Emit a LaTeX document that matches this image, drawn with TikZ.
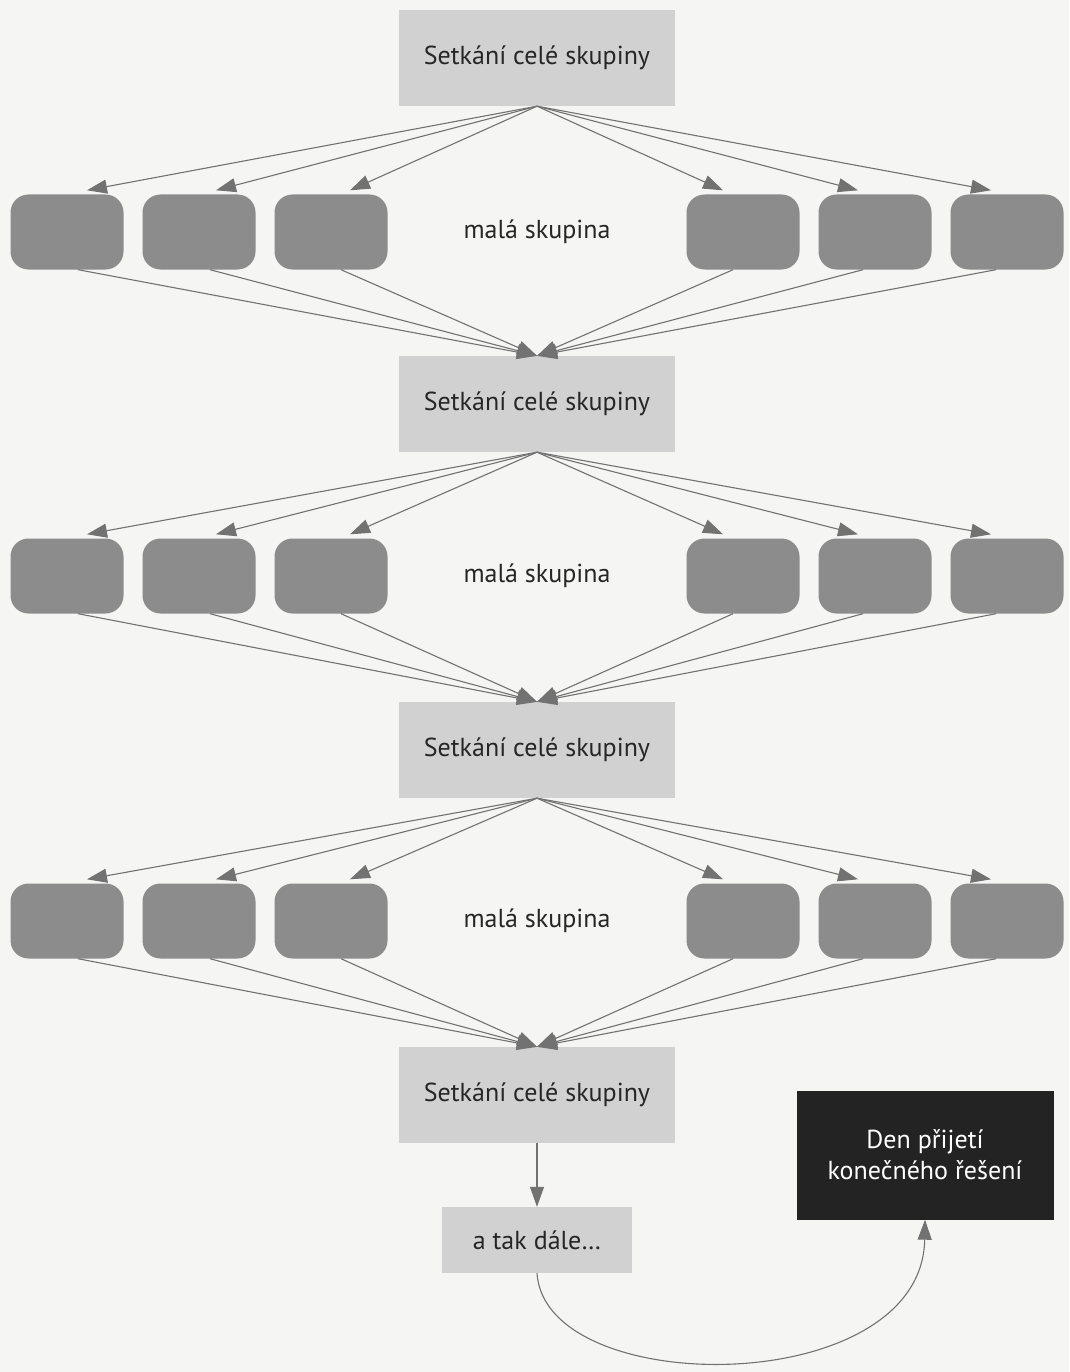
\documentclass[tikz,border=0pt]{standalone}
\usepackage{fontspec}
\setmainfont{PT Sans}
\usetikzlibrary{arrows.meta,calc}
\definecolor{meet}{HTML}{D1D1D1}
\definecolor{smallc}{HTML}{8C8C8C}
\definecolor{dark}{HTML}{232323}
\definecolor{connc}{HTML}{727272}
\definecolor{page}{HTML}{F5F5F4}
\begin{document}
\begin{tikzpicture}[x=1pt,y=-1pt,
  meetbox/.style={fill=meet, minimum width=276pt, minimum height=96pt, inner sep=0pt, font=\fontsize{26}{31}\selectfont, text=black!85},
  smallbox/.style={fill=smallc, rounded corners=18pt, minimum width=113pt, minimum height=75pt, inner sep=0pt},
  lab/.style={font=\fontsize{26}{31}\selectfont, text=black!85},
  conn/.style={draw=connc, line width=1.1pt, -{Triangle[length=20pt,width=14pt]}, color=connc}]
\path[use as bounding box, fill=page] (0,0) rectangle (1069,1372);
% meeting boxes
\node[meetbox] (m1) at (537,58) {Setkání celé skupiny};
\node[meetbox] (m2) at (537,404) {Setkání celé skupiny};
\node[meetbox] (m3) at (537,750) {Setkání celé skupiny};
\node[meetbox] (m4) at (537,1095) {Setkání celé skupiny};
% small group rows
\foreach \r/\y in {1/232,2/576,3/921}{
  \foreach \n/\x in {a/67,b/199,c/331,d/743,e/875,f/1007}{
    \node[smallbox] (r\r\n) at (\x,\y) {};
  }
  \node[lab] (lab\r) at (537,\y) {malá skupina};
}
% connectors
\foreach \r/\nx in {1/2,2/3,3/4}{
  \foreach \n/\dx/\bx in {a/20/11,b/17/11,c/19/10,d/-20/-10,e/-17/-12,f/-16/-11}{
    \draw[conn] (m\r.south) -- ($(r\r\n.north)+(\dx,-4)$);
    \draw[conn] ($(r\r\n.south)+(\bx,0)$) -- (m\nx.north);
  }
}
% end
\node[fill=meet, minimum width=190pt, minimum height=66pt, inner sep=0pt, lab] (etc) at (537,1240) {a tak dále\ldots};
\node[fill=dark, minimum width=257pt, minimum height=129pt, inner sep=0pt, align=center, font=\fontsize{26}{31}\selectfont, text=white] (den) at (925,1155) {Den přijetí\\konečného řešení};
\draw[conn] (m4.south) -- (etc.north);
\draw[conn] (etc.south) .. controls (545,1400) and (922,1400) .. (den.south);
\end{tikzpicture}
\end{document}
